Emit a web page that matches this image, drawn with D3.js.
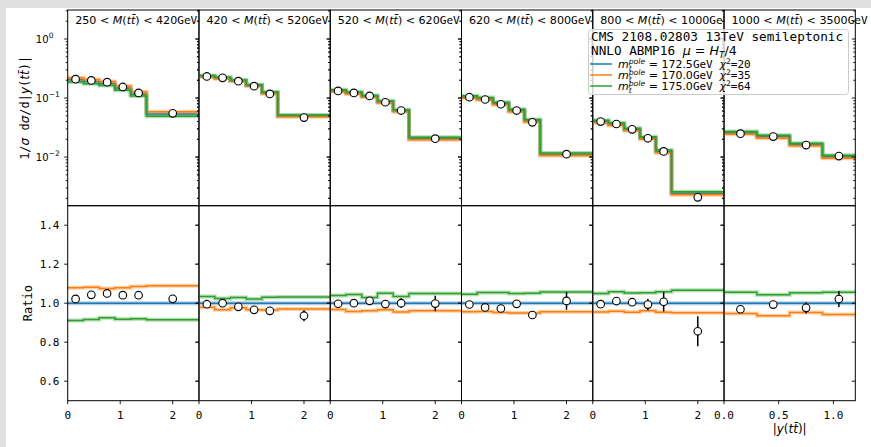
<!DOCTYPE html>
<html><head><meta charset="utf-8">
<script src="https://cdnjs.cloudflare.com/ajax/libs/d3/7.8.5/d3.min.js"></script>
<style>body{margin:0;background:#fff;} svg{display:block;} text{white-space:pre;}</style>
</head><body>
<svg id="c" width="871" height="447"></svg>
<script>
// ---------------- data ----------------
const massLow  = ["250","420","520","620","800","1000"];
const massHigh = ["420","520","620","800","1000","3500"];
const binEdges = [
  [0,0.3,0.6,0.9,1.2,1.5,2.5],
  [0,0.3,0.6,0.9,1.2,1.5,2.5],
  [0,0.3,0.6,0.9,1.2,1.5,2.5],
  [0,0.3,0.6,0.9,1.2,1.5,2.5],
  [0,0.3,0.6,0.9,1.2,1.5,2.5],
  [0,0.3,0.6,0.9,1.2]
];
const binCenters = [
  [0.15,0.45,0.75,1.05,1.35,2.0],
  [0.15,0.45,0.75,1.05,1.35,2.0],
  [0.15,0.45,0.75,1.05,1.35,2.0],
  [0.15,0.45,0.75,1.05,1.35,2.0],
  [0.15,0.45,0.75,1.05,1.35,2.0],
  [0.15,0.45,0.75,1.05]
];
const xMax = [2.5,2.5,2.5,2.5,2.5,1.2];
const xTickVals = [[0,1,2],[0,1,2],[0,1,2],[0,1,2],[0,1,2],[0,0.5,1.0]];
const xTickText = [["0","1","2"],["0","1","2"],["0","1","2"],["0","1","2"],["0","1","2"],["0.0","0.5","1.0"]];

// measured normalised cross sections (CMS data)
const dataVals = [
  [0.209,0.199,0.186,0.154,0.122,0.055],
  [0.232,0.220,0.193,0.159,0.1175,0.0467],
  [0.132,0.122,0.1087,0.0849,0.0614,0.0205],
  [0.1033,0.0944,0.0785,0.0614,0.0388,0.0112],
  [0.0399,0.0363,0.0295,0.0208,0.01248,0.00208],
  [0.0249,0.0222,0.01596,0.01038]
];
// relative data uncertainties
const dataRelErr = [
  [0.007,0.008,0.009,0.009,0.009,0.018],
  [0.006,0.007,0.008,0.009,0.012,0.030],
  [0.006,0.006,0.008,0.010,0.025,0.040],
  [0.006,0.007,0.008,0.010,0.020,0.045],
  [0.008,0.010,0.018,0.030,0.050,0.090],
  [0.010,0.015,0.030,0.040]
];
// NNLO ABMP16 predictions, m_t^pole = 172.5 GeV
const theory1725 = [
  [0.2045,0.1908,0.1771,0.1479,0.1172,0.0538],
  [0.2332,0.2200,0.1967,0.1646,0.1223,0.0499],
  [0.1324,0.1220,0.1074,0.0853,0.0614,0.02054],
  [0.1040,0.0965,0.0807,0.0616,0.0413,0.01107],
  [0.0401,0.0359,0.02935,0.02095,0.01239,0.00243],
  [0.0257,0.02236,0.01635,0.01016]
];
// m_t^pole = 170.0 GeV
const theory1700 = [
  [0.2207,0.2064,0.1904,0.1596,0.1272,0.0586],
  [0.2283,0.2125,0.1920,0.1590,0.1181,0.0484],
  [0.1282,0.1168,0.1033,0.0824,0.0586,0.01974],
  [0.0995,0.0924,0.0768,0.0585,0.0392,0.01058],
  [0.0383,0.0344,0.0280,0.02013,0.01182,0.00231],
  [0.02434,0.02091,0.01557,0.00957]
];
// m_t^pole = 175.0 GeV
const theory1750 = [
  [0.1863,0.1748,0.1638,0.1358,0.1078,0.0492],
  [0.2411,0.2253,0.2024,0.1682,0.1261,0.0515],
  [0.1376,0.1274,0.1105,0.0897,0.0635,0.02157],
  [0.1088,0.1018,0.0851,0.0647,0.0434,0.01171],
  [0.0421,0.0380,0.0309,0.02206,0.01311,0.00259],
  [0.02714,0.02334,0.01722,0.01073]
];
const seriesMass  = ["172.5","170.0","175.0"];
const seriesChi2  = ["20","35","64"];
const seriesColor = ["#1f77b4","#ff7f0e","#2ca02c"];
const ratioTicks = [0.6,0.8,1.0,1.2,1.4];
const ratioTickText = ["0.6","0.8","1.0","1.2","1.4"];
const logMajor = [1,0.1,0.01];
const logMajorExp = ["0","\u22121","\u22122"];

// ---------------- layout ----------------
const W=871, H=447;
const L=67.7, R=855.3, T=10, MID=205.7, B=400.7;
const nP=6, pw=(R-L)/nP;
const SANS="DejaVu Sans", MONO="DejaVu Sans Mono";

const svg=d3.select("#c");
svg.append("rect").attr("width",W).attr("height",H).attr("fill","#fff");
svg.append("rect").attr("x",0).attr("y",0).attr("width",W).attr("height",8).attr("fill","#e0e0e0");
svg.append("rect").attr("x",0).attr("y",0).attr("width",6).attr("height",H).attr("fill","#e0e0e0");

const yTop=d3.scaleLog().domain([1.5e-3,3.1]).range([MID,T]);
const yRat=d3.scaleLinear().domain([0.5,1.5]).range([B,MID]);

// rich text helper
function rich(parent,x,y,parts,size){
  let cx=x,lastStart=x,lastEnd=x;
  parts.forEach(p=>{
    const t=parent.append("text")
      .attr("x",p.stack?lastStart:cx)
      .attr("y",y+(p.shift||0))
      .attr("font-family",p.f||SANS)
      .attr("font-size",p.s||size)
      .attr("font-style",p.i?"italic":"normal")
      .attr("fill","#000")
      .text(p.t);
    const w=t.node().getComputedTextLength();
    if(p.stack){cx=Math.max(lastEnd,lastStart+w);}
    else{lastStart=cx;cx+=w;lastEnd=cx;}
  });
  return cx-x;
}

const defs=svg.append("defs");
const allTheory=[theory1725,theory1700,theory1750];

for(let p=0;p<nP;p++){
  const x0=L+p*pw, x1=x0+pw;
  const x=d3.scaleLinear().domain([0,xMax[p]]).range([x0,x1]);
  const edges=binEdges[p];
  const g=svg.append("g");

  const stepPts=(vals)=>{const pts=vals.map((v,i)=>[edges[i],v]);pts.push([edges[edges.length-1],vals[vals.length-1]]);return pts;};
  allTheory.forEach((th,k)=>{
    const vals=th[p];
    const ratio=vals.map((v,i)=>v/theory1725[p][i]);
    const lt=d3.line().x(d=>x(d[0])).y(d=>yTop(d[1])).curve(d3.curveStepAfter);
    const lr=d3.line().x(d=>x(d[0])).y(d=>yRat(d[1])).curve(d3.curveStepAfter);
    [[lt,stepPts(vals)],[lr,stepPts(ratio)]].forEach(([ln,pts])=>{
      g.append("path").attr("d",ln(pts)).attr("fill","none").attr("stroke",seriesColor[k]).attr("stroke-width",4).attr("stroke-opacity",0.35);
      g.append("path").attr("d",ln(pts)).attr("fill","none").attr("stroke",seriesColor[k]).attr("stroke-width",1.5);
    });
  });

  binCenters[p].forEach((c,i)=>{
    const v=dataVals[p][i], e=v*dataRelErr[p][i];
    const r=v/theory1725[p][i], er=r*dataRelErr[p][i];
    g.append("line").attr("x1",x(c)).attr("x2",x(c)).attr("y1",yTop(v-e)).attr("y2",yTop(v+e)).attr("stroke","#000").attr("stroke-width",1.5);
    g.append("line").attr("x1",x(c)).attr("x2",x(c)).attr("y1",yRat(r-er)).attr("y2",yRat(r+er)).attr("stroke","#000").attr("stroke-width",1.5);
    g.append("circle").attr("cx",x(c)).attr("cy",yTop(v)).attr("r",3.8).attr("fill","#fff").attr("stroke","#000").attr("stroke-width",1.1);
    g.append("circle").attr("cx",x(c)).attr("cy",yRat(r)).attr("r",3.8).attr("fill","#fff").attr("stroke","#000").attr("stroke-width",1.1);
  });

  g.append("rect").attr("x",x0).attr("y",T).attr("width",pw).attr("height",MID-T).attr("fill","none").attr("stroke","#000").attr("stroke-width",1);
  g.append("rect").attr("x",x0).attr("y",MID).attr("width",pw).attr("height",B-MID).attr("fill","none").attr("stroke","#000").attr("stroke-width",1);

  const tk=(y,len)=>{
    g.append("line").attr("x1",x0-len).attr("x2",x0).attr("y1",y).attr("y2",y).attr("stroke","#000").attr("stroke-width",0.9);
    g.append("line").attr("x1",x1-len).attr("x2",x1).attr("y1",y).attr("y2",y).attr("stroke","#000").attr("stroke-width",0.9);
  };
  logMajor.forEach(v=>tk(yTop(v),3.5));
  [0.001,0.01,0.1,1].forEach(dec=>{for(let m=2;m<=9;m++){const v=dec*m;if(v>1.5e-3&&v<3.1)tk(yTop(v),2);}});
  ratioTicks.forEach(v=>tk(yRat(v),3.5));

  xTickVals[p].forEach((v,i)=>{
    g.append("line").attr("x1",x(v)).attr("x2",x(v)).attr("y1",B).attr("y2",B+3.5).attr("stroke","#000").attr("stroke-width",0.9);
    g.append("text").attr("x",x(v)).attr("y",418.5).attr("text-anchor","middle").attr("font-family",MONO).attr("font-size",11).text(xTickText[p][i]);
  });

  let tg=g;
  if(p<nP-1){
    const id="clip"+p;
    defs.append("clipPath").attr("id",id).append("rect").attr("x",x0).attr("y",0).attr("width",pw).attr("height",MID);
    tg=g.append("g").attr("clip-path",`url(#${id})`);
  }
  rich(tg,x0+7.5,24,[
    {t:massLow[p]},{t:" < "},{t:"M",i:1},{t:"("},{t:"tt\u0304",i:1},{t:")"},{t:" < "},{t:massHigh[p]},{t:"GeV",f:MONO}
  ],11.1);
}

const lab=svg.append("g");
logMajor.forEach((v,i)=>{
  const y=yTop(v);
  lab.append("text").attr("x",48.5).attr("y",y+4).attr("text-anchor","end").attr("font-family",SANS).attr("font-size",10).text("10");
  lab.append("text").attr("x",48.8).attr("y",y-1.5).attr("font-family",SANS).attr("font-size",7.5).text(logMajorExp[i]);
});
ratioTicks.forEach((v,i)=>{
  lab.append("text").attr("x",59.5).attr("y",yRat(v)+4).attr("text-anchor","end").attr("font-family",MONO).attr("font-size",11).text(ratioTickText[i]);
});

const yl=svg.append("g");
const ylw=rich(yl,0,0,[
  {t:"1/",f:MONO},{t:"\u03c3",i:1},{t:" d",f:MONO},{t:"\u03c3",i:1},{t:"/d|",f:MONO},{t:"y",i:1},{t:"(",f:MONO},{t:"tt\u0304",i:1},{t:")|",f:MONO}
],12);
yl.attr("transform",`translate(29,${(T+MID)/2}) rotate(-90) translate(${-ylw/2},0)`);
svg.append("text").attr("transform",`translate(31.5,${(MID+B)/2}) rotate(-90)`).attr("text-anchor","middle").attr("font-family",MONO).attr("font-size",12).text("Ratio");
const xl=svg.append("g");
const xlw=rich(xl,0,0,[{t:"|"},{t:"y",i:1},{t:"("},{t:"tt\u0304",i:1},{t:")|"}],12);
xl.attr("transform",`translate(${L+5.5*pw-xlw/2},433)`);

const lg=svg.append("g");
lg.append("rect").attr("x",588.5).attr("y",29.5).attr("width",260).attr("height",65).attr("rx",3)
  .attr("fill","#fff").attr("fill-opacity",0.8).attr("stroke","#cccccc").attr("stroke-width",1);
rich(lg,591,41,[{t:"CMS 2108.02803 13TeV semileptonic",f:MONO}],12.7);
rich(lg,591,55,[{t:"NNLO ABMP16 ",f:MONO},{t:"\u03bc",i:1},{t:" = "},{t:"H",i:1},{t:"T",i:1,s:9,shift:3},{t:"/4"}],12.7);
seriesMass.forEach((m,k)=>{
  const y=64+k*11;
  lg.append("line").attr("x1",590).attr("x2",612).attr("y1",y).attr("y2",y).attr("stroke",seriesColor[k]).attr("stroke-width",1.5);
  rich(lg,618,y+4,[
    {t:"m",i:1},{t:"t",i:1,s:7.7,shift:2.5},{t:"pole",i:1,s:7.7,shift:-4,stack:1},
    {t:" = "+m},{t:"GeV ",f:MONO},{t:"\u03c7",i:1},{t:"2",s:7.7,shift:-4},{t:"="+seriesChi2[k],f:MONO}
  ],11);
});
</script>
</body></html>
